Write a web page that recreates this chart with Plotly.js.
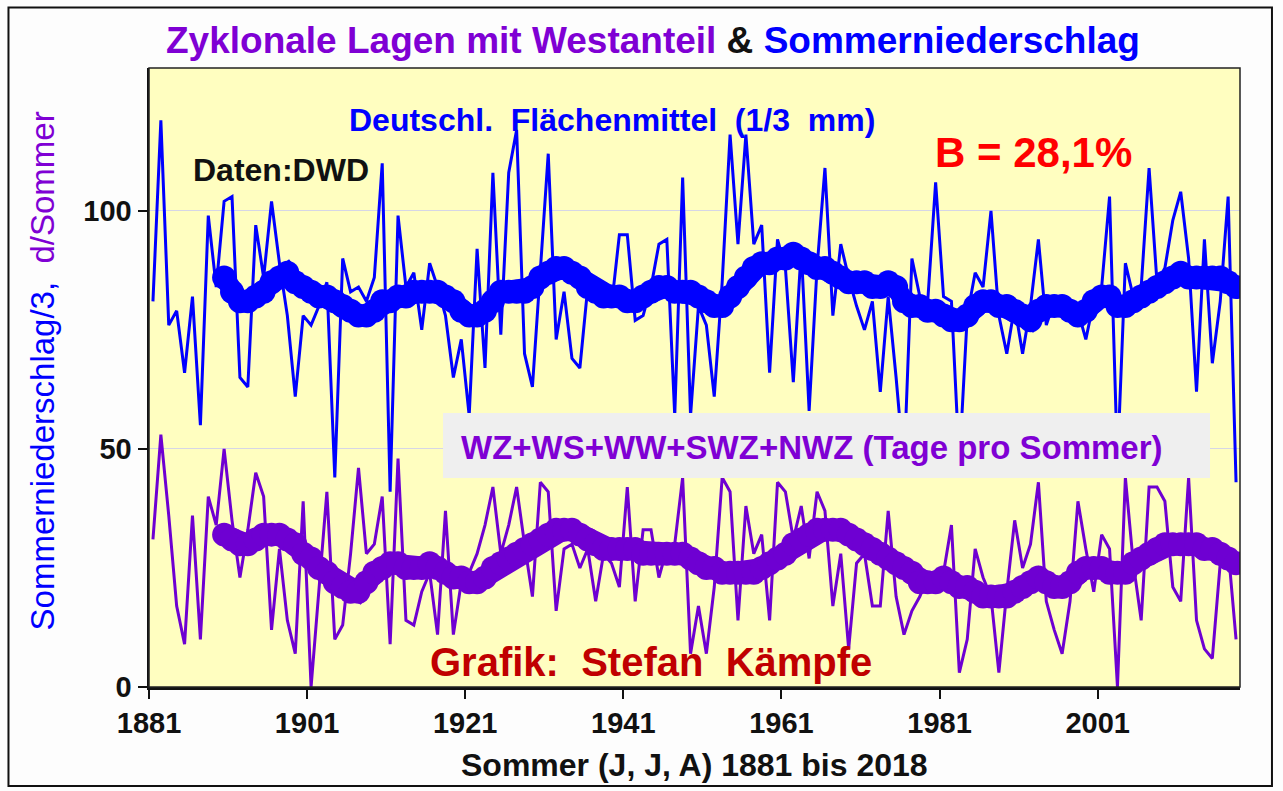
<!DOCTYPE html>
<html>
<head>
<meta charset="utf-8">
<script src="https://cdn.plot.ly/plotly-3.0.1.min.js"></script>
<style>html,body{margin:0;padding:0;background:#fdfdfd;}#chart{width:1283px;height:791px;}</style>
</head>
<body>
<div id="chart"></div>
<script>
// Summer precipitation (Germany area mean, 1/3 mm), 1881-2018
const firstYear = 1881;
const precip = [81,119,76,79,66,82,55,99,84,102, 103,65,63,97,86,102,89,78,61,78,
  76,80,85,44,90,83,84,81,86,110, 41,99,84,87,75,89,84,78,65,73,
  57,92,67,108,74,108,117,70,63,88, 112,73,83,69,67,84,82,80,80,95,
  95,77,78,84,93,94,57,107,57,80, 76,61,85,116,93,116,93,97,66,94,
  88,64,92,58,88,109,78,93,86,80, 75,81,62,82,65,46,90,82,81,106,
  82,81,47,78,87,84,100,78,70,80, 70,80,94,76,81,80,80,79,73,81,
  84,103,47,89,82,84,109,85,88,98, 104,90,62,94,68,81,103,43];
// Cyclonic westerly weather types (days per summer), 1881-2018
const days = [31,53,36,17,9,36,10,40,34,50, 35,23,33,45,40,12,29,14,7,39,
  0,20,41,10,13,28,46,28,30,40, 9,48,14,13,20,24,11,37,11,22,
  24,28,34,42,28,34,42,30,19,43, 41,16,29,30,25,29,18,28,26,21,
  42,18,33,33,23,29,30,44,7,17, 7,21,44,41,14,38,28,32,14,43,
  41,31,38,27,41,37,17,28,8,26, 28,17,17,37,19,11,16,19,23,23,
  24,34,3,10,29,23,19,3,20,35, 25,30,43,18,12,7,18,39,29,20,
  32,29,0,44,26,14,42,42,39,21, 18,44,14,8,6,26,29,10];
// Smoothed curves, 1890-2018
const smoothFirstYear = 1890;
const precipSmooth = [86,83,81,81,82,83,85,86,87,85, 84,83,82,82,81,80,79,78,78,79,
  81,81,82,82,83,83,83,83,82,81, 79,78,78,79,81,83,83,83,83,84,
  86,87,88,88,87,86,84,83,82,82, 82,81,81,82,83,84,84,83,83,83,
  82,81,80,80,82,84,86,88,89,89, 90,90,91,90,89,88,88,87,86,85,
  85,85,84,84,85,84,81,80,80,79, 79,78,77,77,78,80,81,81,80,80,
  79,78,77,79,80,80,80,79,78,79, 81,82,82,80,80,81,82,83,84,85,
  86,87,86,86,86,86,86,85,84];
const daysSmooth = [32,31,30,30,31,32,32,32,31,30, 28,27,25,24,22,21,20,20,22,24,
  25,26,26,25,25,25,26,25,24,23, 23,22,22,23,25,26,27,28,29,30,
  31,32,33,33,33,32,31,30,29,29, 29,29,29,28,28,28,28,28,28,27,
  26,25,25,24,24,24,24,24,25,26, 27,28,30,31,32,33,33,33,33,32,
  31,30,29,28,27,26,25,24,22,22, 22,23,22,21,21,20,19,19,19,19,
  20,21,22,23,22,21,21,22,24,25, 25,25,24,24,24,26,27,28,29,30,
  30,30,30,30,29,29,28,27,26];
const tickLabels = ['1881','1901','1921','1941','1961','1981','2001'];
const yTicks = [0, 50, 100];

const years = precip.map((_, i) => firstYear + i);
const smoothYears = precipSmooth.map((_, i) => smoothFirstYear + i);

const BLUE = '#0000FF';
const PURPLE = '#6E00D2';
const TITLE_PURPLE = '#7F00D4';
const FONT = 'Liberation Sans, Arial, Helvetica, sans-serif';

const traces = [
  {x: years, y: precip, type: 'scatter', mode: 'lines',
   line: {color: BLUE, width: 3}, hoverinfo: 'x+y'},
  {x: years, y: days, type: 'scatter', mode: 'lines',
   line: {color: PURPLE, width: 3}, hoverinfo: 'x+y'},
  {x: smoothYears, y: precipSmooth, type: 'scatter', mode: 'lines+markers',
   line: {color: BLUE, width: 20}, marker: {color: BLUE, size: 24}, hoverinfo: 'x+y'},
  {x: smoothYears, y: daysSmooth, type: 'scatter', mode: 'lines+markers',
   line: {color: PURPLE, width: 20}, marker: {color: PURPLE, size: 24}, hoverinfo: 'x+y'}
];

const bold = (size, color) => ({family: FONT, size: size, color: color, weight: 'bold'});

const layout = {
  width: 1283, height: 791,
  margin: {l: 149, r: 43, t: 68, b: 104},
  paper_bgcolor: '#fdfdfd',
  plot_bgcolor: '#FFFEC0',
  showlegend: false,
  xaxis: {
    range: [firstYear - 0.5, firstYear + precip.length - 0.5],
    tickvals: tickLabels.map(t => Number(t) - 0.5),
    ticktext: tickLabels,
    ticks: 'outside', ticklen: 9, tickwidth: 2, tickcolor: '#111',
    showline: true, linecolor: '#111', linewidth: 2.5,
    showgrid: false, zeroline: false,
    tickfont: bold(29, '#111')
  },
  yaxis: {
    range: [0, 130],
    tickvals: yTicks,
    ticks: 'outside', ticklen: 9, tickwidth: 2, tickcolor: '#111',
    showline: true, linecolor: '#111', linewidth: 2.5,
    showgrid: true, gridcolor: '#D6D6E6', gridwidth: 1,
    zeroline: false,
    tickfont: bold(29, '#111')
  },
  shapes: [
    {type: 'rect', xref: 'paper', yref: 'paper', x0: 0, x1: 1, y0: 0, y1: 1,
     line: {color: '#222', width: 1.5}, layer: 'above'},
    {type: 'rect', xref: 'paper', yref: 'paper', x0: 0.2695, x1: 0.9725, y0: 0.3376, y1: 0.4427,
     fillcolor: '#EFEFEF', line: {width: 0}, layer: 'above'},
    {type: 'rect', xref: 'paper', yref: 'paper', x0: -0.1288, x1: 1.0293, y0: -0.16, y1: 1.0977,
     line: {color: '#111', width: 2}, layer: 'above'}
  ],
  annotations: [
    {xref: 'paper', yref: 'paper', x: 0.462, y: 1.045, xanchor: 'center', yanchor: 'middle',
     showarrow: false, font: bold(37, '#111'),
     text: '<span style="color:' + TITLE_PURPLE + '">Zyklonale Lagen mit Westanteil</span> &amp; <span style="color:' + BLUE + '">Sommerniederschlag</span>'},
    {xref: 'paper', yref: 'paper', x: -0.098, y: 0.51, xanchor: 'center', yanchor: 'middle',
     textangle: -90, showarrow: false,
     font: {family: FONT, size: 33, color: BLUE},
     text: 'Sommerniederschlag/3,  <span style="color:' + TITLE_PURPLE + '">d/Sommer</span>'},
    {xref: 'paper', yref: 'paper', x: 0.5, y: -0.126, xanchor: 'center', yanchor: 'middle',
     showarrow: false, font: bold(32, '#111'),
     text: 'Sommer (J, J, A) 1881 bis 2018'},
    {xref: 'paper', yref: 'paper', x: 0.4244, y: 0.916, xanchor: 'center', yanchor: 'middle',
     showarrow: false, font: bold(32, BLUE),
     text: 'Deutschl.  Flächenmittel  (1/3  mm)'},
    {xref: 'paper', yref: 'paper', x: 0.121, y: 0.835, xanchor: 'center', yanchor: 'middle',
     showarrow: false, font: bold(32, '#111'),
     text: 'Daten:DWD'},
    {xref: 'paper', yref: 'paper', x: 0.811, y: 0.864, xanchor: 'center', yanchor: 'middle',
     showarrow: false, font: bold(42, '#FF0000'),
     text: 'B = 28,1%'},
    {xref: 'paper', yref: 'paper', x: 0.6077, y: 0.3877, xanchor: 'center', yanchor: 'middle',
     showarrow: false, font: bold(33, TITLE_PURPLE),
     text: 'WZ+WS+WW+SWZ+NWZ (Tage pro Sommer)'},
    {xref: 'paper', yref: 'paper', x: 0.46, y: 0.0404, xanchor: 'center', yanchor: 'middle',
     showarrow: false, font: bold(40, '#C00000'),
     text: 'Grafik:  Stefan  Kämpfe'}
  ]
};

Plotly.newPlot('chart', traces, layout, {displayModeBar: false, staticPlot: true});
</script>
</body>
</html>
